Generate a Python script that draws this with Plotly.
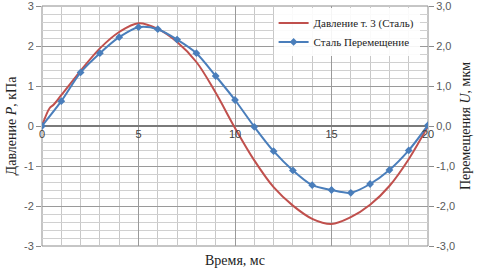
import plotly.graph_objects as go

# Pressure (red) curve: time (ms) and value (kPa)
t_pressure = [0, 0.4, 0.6, 1, 2, 3, 4, 5, 6, 7, 8, 9, 10, 11, 12, 13, 14, 15, 16, 17, 18, 19, 20]
pressure = [0, 0.45, 0.53, 0.77, 1.38, 1.94, 2.35, 2.57, 2.43, 2.1, 1.6, 0.83, -0.05, -0.86,
            -1.53, -1.99, -2.32, -2.45, -2.28, -1.97, -1.5, -0.83, 0]

# Displacement (blue) series: time (ms) and value (um)
t_disp = list(range(0, 21))
displacement = [0, 0.62, 1.34, 1.82, 2.22, 2.47, 2.42, 2.16, 1.82, 1.25, 0.65, -0.02, -0.63,
                -1.11, -1.48, -1.6, -1.67, -1.45, -1.1, -0.61, 0.02]

x_ticks = [0, 5, 10, 15, 20]
y_left_ticks = [-3, -2, -1, 0, 1, 2, 3]
y_left_labels = ["-3", "-2", "-1", "0", "1", "2", "3"]
y_right_labels = ["-3,0", "-2,0", "-1,0", "0,0", "1,0", "2,0", "3,0"]

RED = "#c0504d"
BLUE = "#4a7ebb"
TICKFONT = dict(family="Liberation Sans", size=11, color="#595959")
SERIF = "Liberation Serif"

fig = go.Figure()
fig.add_trace(go.Scatter(x=t_pressure, y=pressure, mode="lines", name="Давление т. 3 (Сталь)",
                         line=dict(color=RED, width=2, shape="spline", smoothing=1.0)))
fig.add_trace(go.Scatter(x=t_disp, y=displacement, mode="lines+markers", name="Сталь Перемещение",
                         yaxis="y2",
                         line=dict(color=BLUE, width=2, shape="spline", smoothing=0.8),
                         marker=dict(symbol="diamond", size=6, color=BLUE)))

fig.update_layout(
    width=492, height=268,
    margin=dict(l=42, r=64, t=6, b=22, autoexpand=False),
    paper_bgcolor="white", plot_bgcolor="white",
    showlegend=True,
    legend=dict(x=0.6, y=0.99, xanchor="left", yanchor="top", bgcolor="rgba(255,255,255,0.9)",
                font=dict(family=SERIF, size=11, color="#222"), tracegroupgap=2,
                itemwidth=30),
    xaxis=dict(range=[0, 20], tickvals=x_ticks, ticktext=[str(v) for v in x_ticks],
               anchor="free", position=0.5, showline=False, ticks="", automargin=False,
               ticklabeloverflow="allow",
               tickfont=dict(family="Liberation Sans", size=11, color="#404040"),
               showgrid=True, gridcolor="#9a9a9a", gridwidth=1, zeroline=False,
               minor=dict(dtick=1, showgrid=True, gridcolor="#c8c8c8", gridwidth=1)),
    yaxis=dict(range=[-3, 3], tickvals=y_left_ticks, ticktext=y_left_labels, automargin=False,
               ticklabeloverflow="allow",
               tickfont=TICKFONT, ticks="outside", ticklen=5, tickcolor="#8c8c8c",
               showgrid=True, gridcolor="#9a9a9a", gridwidth=1,
               zeroline=True, zerolinecolor="#7a7a7a", zerolinewidth=1.5,
               minor=dict(dtick=0.2, showgrid=True, gridcolor="#d0d0d0", gridwidth=1),
               title=dict(text="Давление <i>P</i>, кПа", font=dict(family=SERIF, size=14, color="#222"),
                          standoff=4)),
    yaxis2=dict(range=[-3, 3], overlaying="y", side="right", tickvals=y_left_ticks, automargin=False,
                ticklabeloverflow="allow",
                ticktext=y_right_labels, tickfont=TICKFONT, ticks="outside", ticklen=5,
                tickcolor="#8c8c8c", showgrid=False, zeroline=False,
                title=dict(text="Перемещения <i>U</i>, мкм", font=dict(family=SERIF, size=14, color="#222"),
                           standoff=6)),
    shapes=[dict(type="rect", xref="paper", yref="paper", x0=0, x1=1, y0=0, y1=1,
                 line=dict(color="#8c8c8c", width=1), layer="below")],
    annotations=[dict(text="Время, мс", xref="paper", yref="paper", x=0.5, y=-0.02,
                      xanchor="center", yanchor="top", showarrow=False,
                      font=dict(family=SERIF, size=14, color="#222"))],
)

fig.write_html("out.html", config={"displayModeBar": False},
               post_script="document.body.style.margin='0';")
